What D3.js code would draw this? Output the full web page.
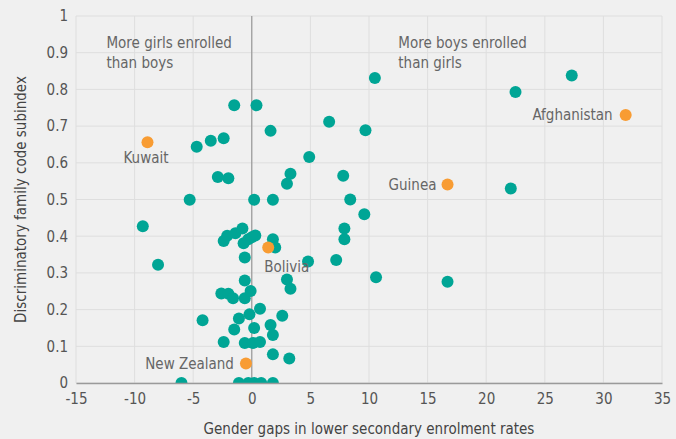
<!DOCTYPE html>
<html>
<head>
<meta charset="utf-8">
<script src="https://cdn.jsdelivr.net/npm/d3@7"></script>
<style>
  body { margin: 0; background: #f0f0f0; }
  text { font-family: "DejaVu Sans Condensed", "Liberation Sans Narrow", sans-serif; }
</style>
</head>
<body>
<div id="container"></div>
<script>
/* CONSTANTS AND GLOBALS */
const width = 676,
      height = 439,
      margin = {top: 16, bottom: 56, left: 76, right: 14},
      radius = 6;

/* DATA */
// gender gap in lower secondary enrolment (x) vs discriminatory family code subindex (y)
const gapValues = [10.5, 27.3, 22.5, 22.1, 9.7, 7.8, 8.4, 9.6, 6.6, 0.4, 1.6, 4.9, 3.3, 3.0, 0.2, 1.8,
  -1.5, -4.7, -3.5, -2.4, -2.9, -2.0, -5.3, -9.3, -8.0, -2.1, -2.4, -1.4, -0.8, -0.7, -0.3, 0.0, 0.3,
  -0.6, 1.8, 2.0, 4.8, 7.2, 7.9, 7.9, 10.6, 16.7, 3.0, 3.3, -0.6, -2.6, -2.0, -1.6, -0.6, -0.1, 0.7,
  -0.2, -1.1, 2.6, -4.2, 1.6, 0.2, -1.5, 1.8, -2.4, -0.6, 0.1, 0.7, 1.8, 3.2,
  -6.0, -1.1, -0.3, 0.2, 0.8, 1.8];
const indexValues = [0.831, 0.838, 0.793, 0.530, 0.689, 0.565, 0.500, 0.460, 0.712, 0.757, 0.687, 0.616, 0.570, 0.543, 0.499, 0.499,
  0.757, 0.644, 0.660, 0.667, 0.561, 0.558, 0.499, 0.427, 0.322, 0.401, 0.387, 0.408, 0.421, 0.381, 0.392, 0.397, 0.402,
  0.342, 0.392, 0.369, 0.331, 0.335, 0.421, 0.392, 0.288, 0.276, 0.282, 0.257, 0.279, 0.244, 0.243, 0.231, 0.231, 0.251, 0.202,
  0.187, 0.176, 0.183, 0.171, 0.158, 0.150, 0.146, 0.131, 0.112, 0.109, 0.109, 0.112, 0.078, 0.067,
  0, 0, 0, 0, 0, 0];

const highlightNames = ["Kuwait", "Afghanistan", "Guinea", "Bolivia", "New Zealand"];
const highlightGap = [-8.9, 31.9, 16.7, 1.4, -0.5];
const highlightIndex = [0.656, 0.730, 0.541, 0.369, 0.053];

const xTicks = [-15, -10, -5, 0, 5, 10, 15, 20, 25, 30, 35];
const yTicks = [0, 0.1, 0.2, 0.3, 0.4, 0.5, 0.6, 0.7, 0.8, 0.9, 1];

const points = gapValues.map((g, i) => ({x: g, y: indexValues[i]}));
const highlights = highlightNames.map((n, i) => ({name: n, x: highlightGap[i], y: highlightIndex[i]}));

// label placement: side of the dot
const labelPos = {
  "Kuwait":      {dx: -24, dy: 16, anchor: "start"},
  "Afghanistan": {dx: -13, dy: 0, anchor: "end"},
  "Guinea":      {dx: -11, dy: 0, anchor: "end"},
  "Bolivia":     {dx: -4, dy: 19, anchor: "start"},
  "New Zealand": {dx: -12, dy: 0, anchor: "end"}
};

const font = "'DejaVu Sans Condensed', 'Liberation Sans Narrow', sans-serif";

/* SCALES */
const xScale = d3.scaleLinear()
  .domain([-15, 35])
  .range([margin.left, width - margin.right]);

const yScale = d3.scaleLinear()
  .domain([0, 1])
  .range([height - margin.bottom, margin.top]);

/* SVG */
const svg = d3.select("#container")
  .append("svg")
  .attr("width", width)
  .attr("height", height);

svg.append("rect")
  .attr("width", width)
  .attr("height", height)
  .attr("fill", "#f0f0f0");

// grid
svg.append("g")
  .selectAll("line")
  .data(xTicks)
  .join("line")
  .attr("x1", d => xScale(d))
  .attr("x2", d => xScale(d))
  .attr("y1", yScale(1))
  .attr("y2", yScale(0))
  .attr("stroke", "#dedede")
  .attr("stroke-width", 1);

svg.append("g")
  .selectAll("line")
  .data(yTicks)
  .join("line")
  .attr("x1", xScale(-15))
  .attr("x2", xScale(35))
  .attr("y1", d => yScale(d))
  .attr("y2", d => yScale(d))
  .attr("stroke", "#dedede")
  .attr("stroke-width", 1);

// zero line
svg.append("line")
  .attr("x1", xScale(0))
  .attr("x2", xScale(0))
  .attr("y1", yScale(1))
  .attr("y2", yScale(0))
  .attr("stroke", "#8a8a8a")
  .attr("stroke-width", 1);

// clip for dots sitting on the axis
svg.append("clipPath")
  .attr("id", "plot-clip")
  .append("rect")
  .attr("x", xScale(-15))
  .attr("y", yScale(1) - 10)
  .attr("width", xScale(35) - xScale(-15) + 10)
  .attr("height", yScale(0) - yScale(1) + 10);

const dots = svg.append("g").attr("clip-path", "url(#plot-clip)");

dots.selectAll("circle.dot")
  .data(points)
  .join("circle")
  .attr("class", "dot")
  .attr("cx", d => xScale(d.x))
  .attr("cy", d => yScale(d.y))
  .attr("r", radius)
  .attr("fill", "#00a595");

dots.selectAll("circle.hl")
  .data(highlights)
  .join("circle")
  .attr("class", "hl")
  .attr("cx", d => xScale(d.x))
  .attr("cy", d => yScale(d.y))
  .attr("r", radius)
  .attr("fill", "#f89c33");

svg.append("g")
  .selectAll("text")
  .data(highlights)
  .join("text")
  .attr("x", d => xScale(d.x) + labelPos[d.name].dx)
  .attr("y", d => yScale(d.y) + labelPos[d.name].dy)
  .attr("dy", "0.35em")
  .attr("text-anchor", d => labelPos[d.name].anchor)
  .attr("font-size", 15)
  .attr("fill", "#666")
  .text(d => d.name);

/* AXES */
const xAxis = d3.axisBottom(xScale)
  .tickValues(xTicks)
  .tickSize(0)
  .tickPadding(10)
  .tickFormat(d => String(d));

const yAxis = d3.axisLeft(yScale)
  .tickValues(yTicks)
  .tickSize(0)
  .tickPadding(8)
  .tickFormat(d => d === 0 || d === 1 ? String(d) : d.toFixed(1));

svg.append("g")
  .attr("transform", `translate(0, ${yScale(0)})`)
  .call(xAxis)
  .call(g => g.select(".domain").attr("stroke", "#9a9a9a").attr("stroke-width", 1.5))
  .call(g => g.selectAll("text").attr("font-size", 15).attr("fill", "#555").style("font-family", font));

svg.append("g")
  .attr("transform", `translate(${margin.left}, 0)`)
  .call(yAxis)
  .call(g => g.select(".domain").remove())
  .call(g => g.selectAll("text").attr("font-size", 15).attr("fill", "#555").style("font-family", font));

// axis titles
svg.append("text")
  .attr("x", (xScale(-15) + xScale(35)) / 2)
  .attr("y", 434)
  .attr("text-anchor", "middle")
  .attr("font-size", 15)
  .attr("fill", "#444")
  .text("Gender gaps in lower secondary enrolment rates");

svg.append("text")
  .attr("transform", `translate(26, ${(yScale(0) + yScale(1)) / 2}) rotate(-90)`)
  .attr("text-anchor", "middle")
  .attr("font-size", 15)
  .attr("fill", "#444")
  .text("Discriminatory family code subindex");

// annotations
const notes = [
  {x: -12.4, lines: ["More girls enrolled", "than boys"]},
  {x: 12.5, lines: ["More boys enrolled", "than girls"]}
];

notes.forEach(n => {
  svg.append("text")
    .attr("x", xScale(n.x))
    .attr("y", 48)
    .attr("font-size", 15)
    .attr("fill", "#666")
    .selectAll("tspan")
    .data(n.lines)
    .join("tspan")
    .attr("x", xScale(n.x))
    .attr("dy", (d, i) => i === 0 ? 0 : 20)
    .text(d => d);
});
</script>
</body>
</html>
